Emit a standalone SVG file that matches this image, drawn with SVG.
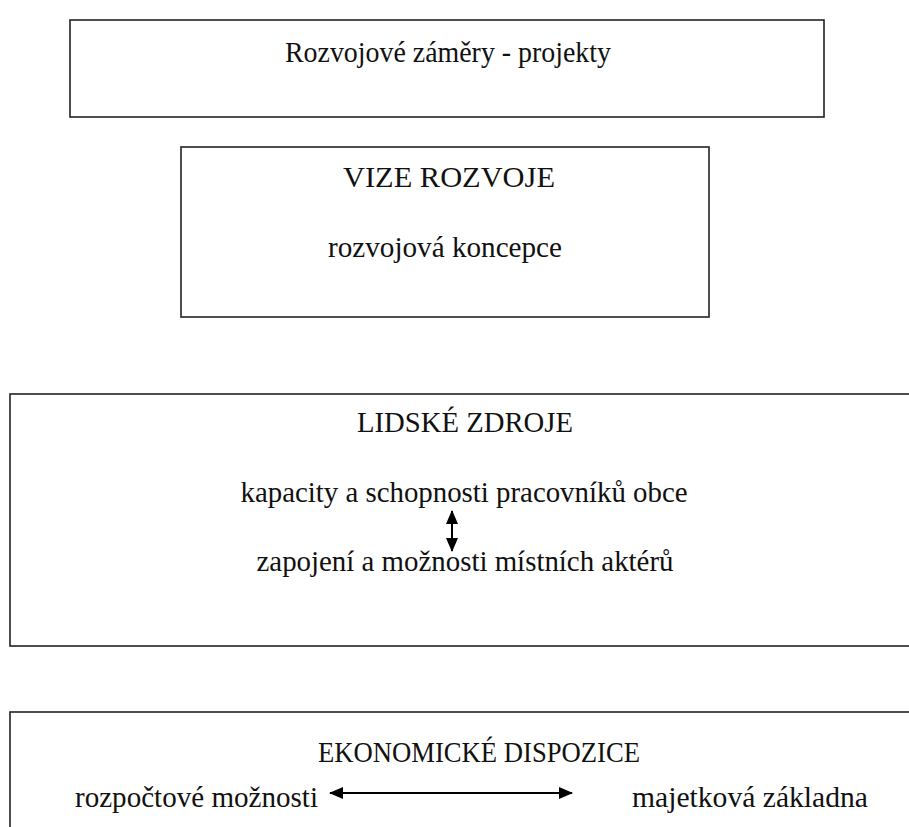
<svg xmlns="http://www.w3.org/2000/svg" width="909" height="827" viewBox="0 0 909 827">
<style>
.box{fill:#fff;stroke:#222;stroke-width:1.6}
.t{font-family:"Liberation Serif","Times New Roman",serif;font-size:30px;fill:#111;text-anchor:middle}
.tl{font-family:"Liberation Serif","Times New Roman",serif;font-size:30px;fill:#111}
.c{stroke:#000;stroke-width:2;fill:none}
</style>
<defs>
<marker id="ah" viewBox="0 0 14 12" refX="13" refY="6" markerWidth="14" markerHeight="12" orient="auto-start-reverse" markerUnits="userSpaceOnUse">
<path d="M0,0 L14,6 L0,12 z" fill="#000"/>
</marker>
</defs>
<rect width="909" height="827" fill="#fff"/>
<g id="n1">
<rect class="box" x="70" y="20" width="754" height="97"/>
<text class="t" x="448" y="62" textLength="326" lengthAdjust="spacingAndGlyphs">Rozvojové záměry - projekty</text>
</g>
<g id="n2">
<rect class="box" x="181" y="147" width="528" height="170"/>
<text class="t" x="449" y="187" textLength="212" lengthAdjust="spacingAndGlyphs">VIZE ROZVOJE</text>
<text class="t" x="445" y="257" textLength="234" lengthAdjust="spacingAndGlyphs">rozvojová koncepce</text>
</g>
<g id="n3">
<rect class="box" x="10" y="394" width="910" height="252"/>
<text class="t" x="465" y="432" textLength="216" lengthAdjust="spacingAndGlyphs">LIDSKÉ ZDROJE</text>
<text class="t" x="464" y="502" textLength="447" lengthAdjust="spacingAndGlyphs">kapacity a schopnosti pracovníků obce</text>
<text class="t" x="465" y="571" textLength="417" lengthAdjust="spacingAndGlyphs">zapojení a možnosti místních aktérů</text>
</g>
<g id="n4">
<rect class="box" x="10" y="712" width="910" height="130"/>
<text class="t" x="479" y="762" textLength="322" lengthAdjust="spacingAndGlyphs">EKONOMICKÉ DISPOZICE</text>
<text class="tl" x="75" y="807" textLength="243" lengthAdjust="spacingAndGlyphs">rozpočtové možnosti</text>
<text class="tl" x="632" y="807" textLength="236" lengthAdjust="spacingAndGlyphs">majetková základna</text>
</g>
<g id="connectors">
<line class="c" x1="452" y1="511" x2="452" y2="551" marker-start="url(#ah)" marker-end="url(#ah)"/>
<line class="c" x1="330" y1="793" x2="572" y2="793" marker-start="url(#ah)" marker-end="url(#ah)"/>
</g>
</svg>
